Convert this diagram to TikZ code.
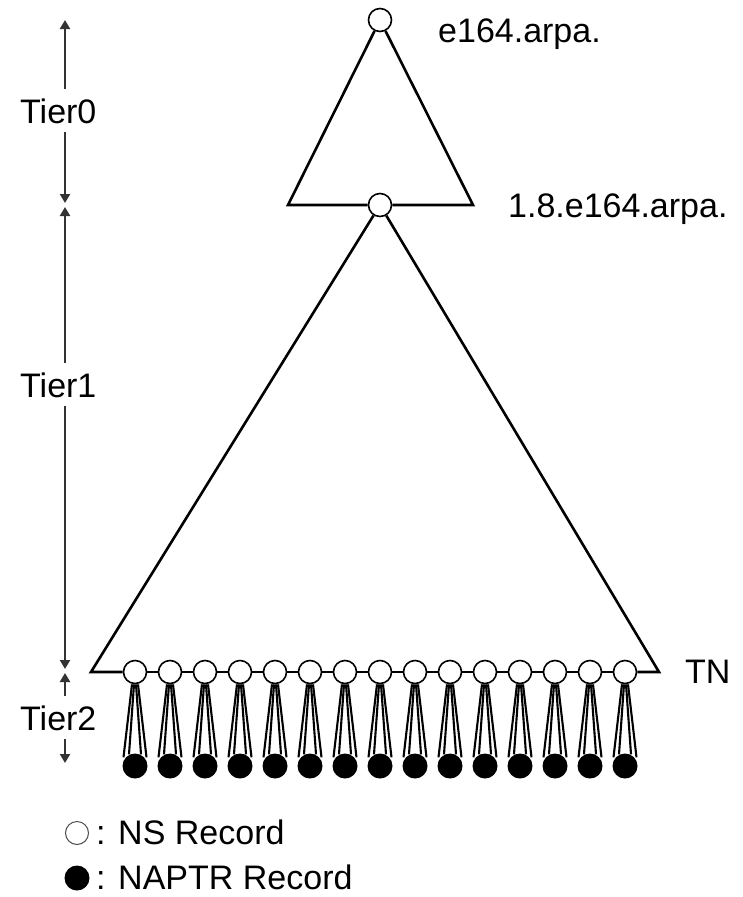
\documentclass[tikz,border=0pt]{standalone}
\usepackage{fontspec}
\setmainfont{Liberation Sans}
\usetikzlibrary{arrows.meta}
\begin{document}
\begin{tikzpicture}[x=1pt,y=-1pt,
  lbl/.style={font=\fontsize{34}{38}\selectfont, inner sep=0pt, anchor=base west},
  tier/.style={font=\fontsize{34}{38}\selectfont, fill=white, inner xsep=0pt, inner ysep=9pt, anchor=base west},
  ns/.style={circle, draw, line width=1.6pt, fill=white, minimum size=23pt, inner sep=0pt},
  naptr/.style={circle, fill=black, minimum size=25pt, inner sep=0pt},
  tri/.style={line width=2.6pt, line join=miter},
  dim/.style={line width=2.6pt, draw=black!80, {Triangle[length=9pt,width=10pt]}-{Triangle[length=9pt,width=10pt]}},
  taper/.style={line width=2.1pt}]
\useasboundingbox (0,0) rectangle (743,897);

% tier dimension arrows
\coordinate (a0t) at (65,20);  \coordinate (a0b) at (65,203);
\coordinate (a1t) at (65,207); \coordinate (a1b) at (65,669);
\coordinate (a2t) at (65,673); \coordinate (a2b) at (65,763);
\draw[dim] (a0t) -- (a0b);
\draw[dim] (a1t) -- (a1b);
\draw[dim] (a2t) -- (a2b);
\node[tier] (t0) at (20,123) {Tier0};
\node[tier] (t1) at (20,397) {Tier1};
\node[tier] (t2) at (20,730) {Tier2};

% top-level nodes
\node[ns] (root) at (380,20) {};
\node[ns] (mid) at (380,205) {};
\coordinate (tl0) at (288,205);
\coordinate (tr0) at (473,205);
\draw[tri] (root) -- (tl0) -- (mid);
\draw[tri] (mid) -- (tr0) -- (root);

% tier-2 nodes
\foreach \i in {1,...,15} {
  \pgfmathsetmacro{\xx}{135+35*(\i-1)}
  \node[naptr] (b\i) at (\xx,766) {};
  \node[ns] (n\i) at (\xx,672) {};
  \draw[taper] ([xshift=-3pt]n\i.south) -- ([xshift=-11.5pt,yshift=-4pt]b\i.north);
  \draw[taper] ([xshift=3pt]n\i.south) -- ([xshift=11.5pt,yshift=-4pt]b\i.north);
  \draw[taper] ([xshift=-1pt]n\i.south) -- ([xshift=-6pt,yshift=-1pt]b\i.north);
  \draw[taper] ([xshift=1pt]n\i.south) -- ([xshift=6pt,yshift=-1pt]b\i.north);
}
\coordinate (tl1) at (91,672);
\coordinate (tr1) at (659,672);
\draw[tri] (mid) -- (tl1) -- (n1);
\foreach \i [evaluate=\i as \j using int(\i+1)] in {1,...,14} {
  \draw[tri] (n\i) -- (n\j);
}
\draw[tri] (n15) -- (tr1) -- (mid);

% labels
\node[lbl] (lroot) at (438,42) {e164.arpa.};
\node[lbl] (lmid) at (508,217) {1.8.e164.arpa.};
\node[lbl] (ltn) at (685,683) {TN};

% legend
\node[ns, draw=black!70, line width=1pt] (lgns) at (77,833) {};
\node[lbl] (lgnst) at (96,844) {: NS Record};
\node[naptr] (lgna) at (77,878) {};
\node[lbl] (lgnat) at (96,889) {: NAPTR Record};
\end{tikzpicture}
\end{document}
